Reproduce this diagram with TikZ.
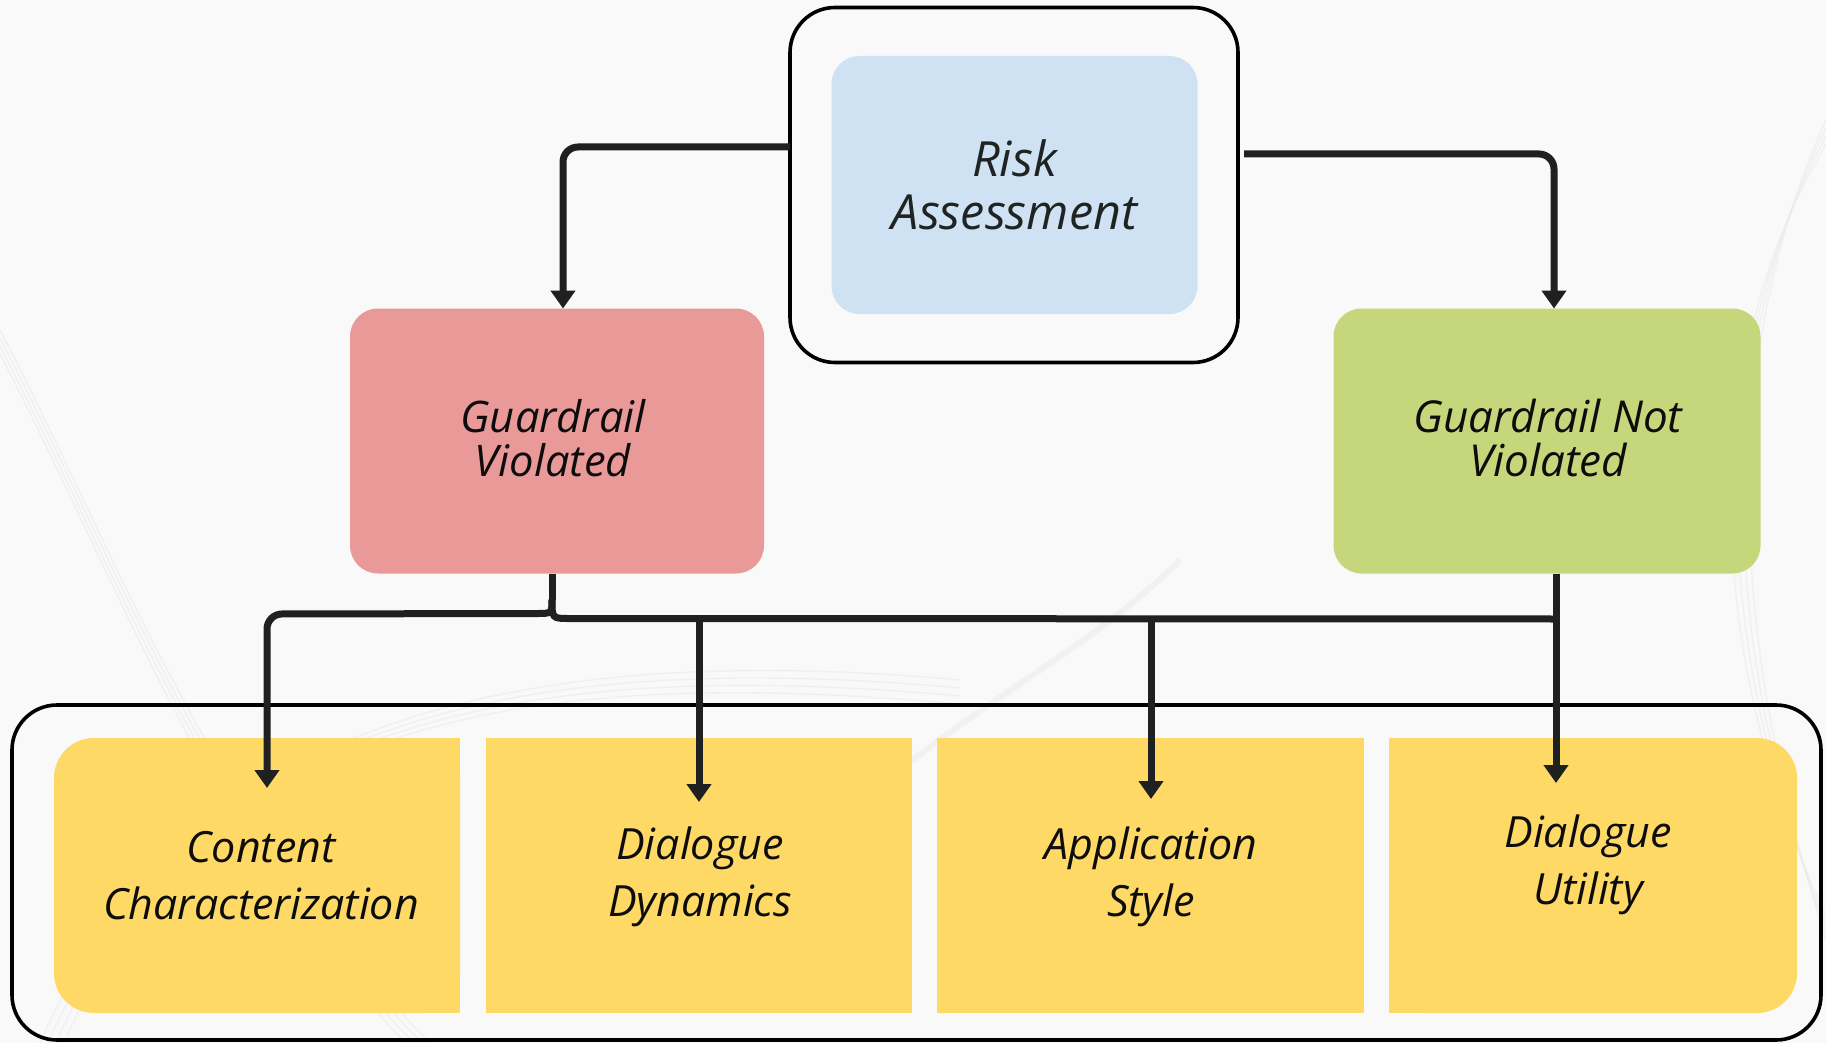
\documentclass[tikz,border=0pt]{standalone}
\usepackage{fontspec}
\setmainfont{Open Sans}
\usetikzlibrary{arrows.meta,backgrounds}
\definecolor{bgc}{HTML}{F9F9F9}
\definecolor{swc}{HTML}{EBEBEB}
\definecolor{bluef}{HTML}{CFE2F3}
\definecolor{redf}{HTML}{EA9999}
\definecolor{greenf}{HTML}{C6D67B}
\definecolor{yelf}{HTML}{FFD966}
\definecolor{linec}{HTML}{1E2120}
\definecolor{txtc}{HTML}{0D0D0D}
\definecolor{txtra}{HTML}{1F2321}
\tikzset{
  lbl/.style={text=txtc, align=center, inner sep=0pt, outer sep=0pt,
              font=\itshape\fontsize{43}{57}\selectfont},
  box/.style={inner sep=0pt, outer sep=0pt, rounded corners=28pt},
  ybox/.style={inner sep=0pt, outer sep=0pt, minimum width=406pt, minimum height=275pt},
  frame/.style={draw=black, line width=3.6pt, rounded corners=45pt, inner sep=0pt, outer sep=0pt},
  conn/.style={draw=linec, line width=7pt},
  tip/.style={-{Triangle[width=24pt,length=18pt]}},
  swoosh/.style={draw=swc, line width=1.4pt, opacity=0.6}
}
\begin{document}
\begin{tikzpicture}[x=1pt,y=-1pt]
\useasboundingbox (0,0) rectangle (1826,1043);
\begin{scope}[on background layer]
  \fill[bgc] (0,0) rectangle (1826,1043);
  % faint decorative waves in the backdrop
  \foreach \d in {0,8,16,24} {
    \draw[swoosh] (0,330+\d) .. controls (120,560+\d) and (210,820+\d) .. (430-\d,1043);
    \draw[swoosh] (40+\d,1043) .. controls (180+\d,720) and (520,640+\d) .. (960,680+\d);
    \draw[swoosh] (1826,120+\d) .. controls (1700-\d,400) and (1750-\d,700) .. (1826,940-\d);
  }
  \draw[swoosh, line width=6pt, opacity=0.5] (900,770) .. controls (1000,690) and (1100,640) .. (1180,560);
\end{scope}

% risk assessment block
\node[frame, minimum width=448pt, minimum height=355pt] (raout) at (1014,185) {};
\node[box, fill=bluef, minimum width=366pt, minimum height=258pt] (rain) at (1014.5,185)
  [lbl, font=\itshape\fontsize{48.5}{53}\selectfont, text=txtra] {Risk\\Assessment};

% outcome blocks
\node[box, fill=redf, minimum width=414pt, minimum height=265pt] (gv) at (557,441) {};
\node[lbl, font=\itshape\fontsize{43.5}{44}\selectfont] (gvt) at (553,438) {Guardrail\\Violated};
\node[box, fill=greenf, minimum width=427pt, minimum height=265pt] (gnv) at (1547,441) {};
\node[lbl, font=\itshape\fontsize{44}{44}\selectfont] (gnvt) at (1548,438) {Guardrail Not\\Violated};

% dimension panel
\node[frame, minimum width=1809pt, minimum height=335pt] (panel) at (916.5,872.5) {};
\node[ybox] (y1) at (257,875.5) {};
\node[ybox, minimum width=426pt] (y2) at (699,875.5) {};
\node[ybox, minimum width=427pt] (y3) at (1150.5,875.5) {};
\node[ybox, minimum width=408pt] (y4) at (1593,875.5) {};
\begin{scope}[on background layer]
  \fill[yelf, rounded corners=40pt] (y1.north west) rectangle (y1.south east);
  \fill[yelf] (y1.north) rectangle (y1.south east);
  \fill[yelf] (y2.north west) rectangle (y2.south east);
  \fill[yelf] (y3.north west) rectangle (y3.south east);
  \fill[yelf, rounded corners=40pt] (y4.north west) rectangle (y4.south east);
  \fill[yelf] (y4.north west) rectangle (y4.south);
\end{scope}
\node[lbl] (y1t) at (261,876) {Content\\Characterization};
\node[lbl] (y2t) at (700,877) {Dialogue\\Dynamics};
\node[lbl] (y3t) at (1151,877) {Application\\Style};
\node[lbl] (y4t) at (1588,865) {Dialogue\\Utility};

% top connectors
\draw[conn, tip, rounded corners=15pt] ([yshift=38pt]raout.west) -| ([xshift=6pt]gv.north);
\draw[conn, tip, rounded corners=15pt] ([xshift=6pt,yshift=31pt]raout.east) -| ([xshift=7pt]gnv.north);

% bottom connectors
\coordinate (stem) at ([xshift=-5pt]gv.south);
\coordinate (split) at ([yshift=-26pt]stem);
\coordinate (busl) at (267,614);
\coordinate (busr) at (1559.5,619);
\coordinate (t1) at ([xshift=10pt,yshift=-50pt]y1.north);
\coordinate (t2) at ([yshift=-64pt]y2.north);
\coordinate (t3) at ([xshift=0.5pt,yshift=-61pt]y3.north);
\coordinate (t4) at ([xshift=-37pt,yshift=-45pt]y4.north);

\draw[conn] (stem) -- (split);
\draw[conn, tip] (split) .. controls ([yshift=-14pt]split) .. ([xshift=-16pt,yshift=-14pt]split)
  [rounded corners=15pt] -- (busl) -- (t1);
\draw[conn] (split) .. controls ([yshift=-19pt]split) .. ([xshift=18pt,yshift=-19pt]split) -- (busr);
\draw[conn, tip] (t2 |- busr) -- (t2);
\draw[conn, tip] (t3 |- busr) -- (t3);
\draw[conn, tip] ([xshift=9pt]gnv.south) -- (t4);
\end{tikzpicture}
\end{document}
